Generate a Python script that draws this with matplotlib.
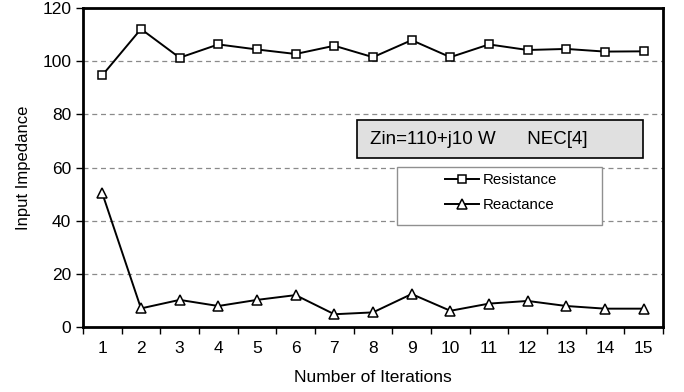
import numpy as np
import matplotlib.pyplot as plt
from matplotlib.patches import Rectangle
from matplotlib.ticker import FixedLocator, NullFormatter

plt.rcParams['font.family'] = ['Liberation Sans', 'DejaVu Sans']

iterations = np.arange(1, 16)
resistance = [94.7, 112.1, 101.3, 106.3, 104.4, 102.7, 105.8, 101.5,
              107.9, 101.5, 106.3, 104.2, 104.6, 103.6, 103.7]
reactance = [50.3, 7.0, 10.2, 7.9, 10.2, 12.0, 4.8, 5.5,
             12.4, 6.1, 8.8, 9.8, 7.9, 6.9, 6.9]

fig = plt.figure(figsize=(6.84, 3.92), dpi=100)
ax = fig.add_axes([0.1213, 0.1658, 0.848, 0.8138])

# grid lines
for yv in [20, 40, 60, 80, 100]:
    ax.axhline(yv, color='#8a8a8a', linestyle=(0, (4, 3)), linewidth=0.9, zorder=0)

ax.plot(iterations, resistance, color='black', linewidth=1.4, marker='s',
        markersize=5.5, markerfacecolor='white', markeredgecolor='black',
        markeredgewidth=1.1, label='Resistance', zorder=3)
ax.plot(iterations, reactance, color='black', linewidth=1.4, marker='^',
        markersize=6.5, markerfacecolor='white', markeredgecolor='black',
        markeredgewidth=1.1, label='Reactance', zorder=3)

ax.set_xlim(0.5, 15.5)
ax.set_ylim(0, 120)
ax.set_yticks([0, 20, 40, 60, 80, 100, 120])

# labels at category centres, ticks at category edges
ax.set_xticks(iterations)
ax.tick_params(axis='x', which='major', length=0, labelsize=12.5, pad=10)
ax.xaxis.set_minor_locator(FixedLocator(np.arange(0.5, 16, 1)))
ax.xaxis.set_minor_formatter(NullFormatter())
ax.tick_params(axis='x', which='minor', length=5, width=1, direction='out')
ax.tick_params(axis='y', length=5, width=1, direction='out', labelsize=12.5)

for s in ax.spines.values():
    s.set_linewidth(2)

ax.set_xlabel('Number of Iterations', fontsize=12.5, labelpad=10)
ax.set_ylabel('Input Impedance', fontsize=12, labelpad=8)

# annotation box
ax.add_patch(Rectangle((0.472, 0.530), 0.4935, 0.119, transform=ax.transAxes,
                       facecolor='#e0e0e0', edgecolor='black', linewidth=1.2,
                       zorder=4))
ax.text(0.495, 0.589, 'Zin=110+j10 W      NEC[4]', transform=ax.transAxes,
        fontsize=13.5, va='center', ha='left', zorder=5)

# legend frame drawn separately, entries centred inside
ax.add_patch(Rectangle((0.541, 0.320), 0.354, 0.1816, transform=ax.transAxes,
                       facecolor='white', edgecolor='#909090', linewidth=1,
                       zorder=4))
leg = ax.legend(loc='upper left', bbox_to_anchor=(0.624, 0.482), fontsize=10.8,
                frameon=False, handlelength=2.3, handletextpad=0.2,
                borderpad=0, labelspacing=0.75, borderaxespad=0)
leg.set_zorder(5)

fig.savefig('out.png', dpi=100)
